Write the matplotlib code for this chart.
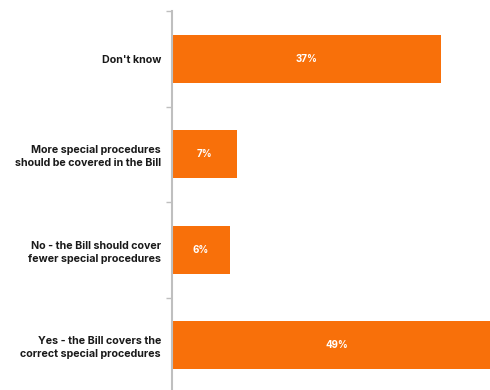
import numpy as np
import matplotlib
matplotlib.use("Agg")
import matplotlib.pyplot as plt

categories = [
    "Yes - the Bill covers the\ncorrect special procedures",
    "No - the Bill should cover\nfewer special procedures",
    "More special procedures\nshould be covered in the Bill",
    "Don't know",
]
values = [49, 6, 7, 37]
labels = ["49%", "6%", "7%", "37%"]

bar_color = "#F8700A"
axis_color = "#BFBFBF"
x_min, x_max = -2.5, 46.0

fig = plt.figure(figsize=(4.9, 3.9), dpi=100)
ax = fig.add_axes([172 / 490, -3 / 390, 330 / 490, 382 / 390])

y = np.arange(len(categories))
vals = np.array(values, dtype=float)
ax.barh(y, vals - x_min, left=x_min, height=0.5, color=bar_color, zorder=2)

for yi, v, lab in zip(y, vals, labels):
    xc = (x_min + min(v, x_max)) / 2
    ax.text(xc, yi, lab, ha="center", va="center", color="white",
            fontsize=7, fontweight="bold", family="Inter")

ax.set_xlim(x_min, x_max)
ax.set_ylim(-0.5, len(categories) - 0.5)

ax.set_yticks(y)
ax.set_yticklabels(categories, fontsize=7.7, fontweight="bold", family="Inter",
                   color="#1a1a1a", linespacing=1.35)
ax.tick_params(axis="y", which="major", length=0, pad=8)
ax.set_yticks(np.arange(len(categories) + 1) - 0.5, minor=True)
ax.tick_params(axis="y", which="minor", length=4, width=1, color=axis_color)

ax.set_xticks([])
for s in ["top", "right", "bottom"]:
    ax.spines[s].set_visible(False)
ax.spines["left"].set_color(axis_color)
ax.spines["left"].set_linewidth(1.5)

fig.savefig("out.png", dpi=100)
